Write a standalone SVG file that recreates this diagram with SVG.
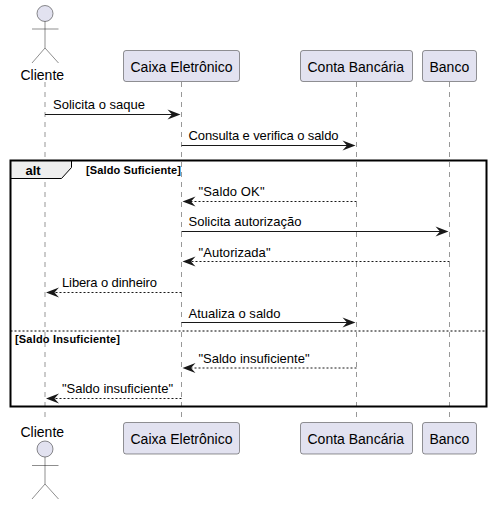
<svg xmlns="http://www.w3.org/2000/svg" width="492" height="505" viewBox="0 0 492 505">
<style>
text{font-family:"Liberation Sans",Arial,sans-serif;fill:#000}
.n{font-size:14px}
.m{font-size:13px}
.b{font-size:11px;font-weight:bold}
.life{stroke:#181818;stroke-opacity:.75;stroke-width:.6;stroke-dasharray:5 5;fill:none}
.box{fill:#E2E2F0;stroke:#181818;stroke-opacity:.65;stroke-width:.7}
.actor{fill:none;stroke:#181818;stroke-opacity:.7;stroke-width:.7}
.head{fill:#E2E2F0;stroke:#181818;stroke-opacity:.7;stroke-width:.7}
.s{stroke:#181818;stroke-width:1;fill:none}
.d{stroke:#181818;stroke-width:1;stroke-dasharray:2 2;fill:none}
.ah{fill:#181818;stroke:none}
</style>
<defs>
<path id="r" class="ah" d="M0 0L-13 -5L-8.500 0L-13 5Z"/>
<path id="l" class="ah" d="M0 0L13 -5L8.500 0L13 5Z"/>
</defs>
<g id="lifelines">
<line class="life" x1="45" y1="82" x2="45" y2="421"/>
<line class="life" x1="181.500" y1="82" x2="181.500" y2="421"/>
<line class="life" x1="356.500" y1="82" x2="356.500" y2="421"/>
<line class="life" x1="449.500" y1="82" x2="449.500" y2="421"/>
</g>
<g id="alt-frame">
<path d="M10.500 160.500H71.500V167.500L61.500 178.500H10.500Z" fill="#EEEEEE" stroke="#000" stroke-width="1"/>
<rect x="10.500" y="160.500" width="476" height="246" fill="none" stroke="#000" stroke-width="2"/>
<text x="25.500" y="175" style="font-size:13px;font-weight:bold">alt</text>
<text x="86" y="174" class="b" textLength="95">[Saldo Suficiente]</text>
<line x1="10.500" y1="331" x2="486.500" y2="331" stroke="#000" stroke-width="1" stroke-dasharray="2 2"/>
<text x="15" y="343" class="b" textLength="105">[Saldo Insuficiente]</text>
</g>
<g id="cliente-top">
<circle class="head" cx="45" cy="13.500" r="8"/>
<path class="actor" d="M45 21.500V48M32 29H58.500M45 48L32 63M45 48L58.500 63"/>
<text class="n" x="20.500" y="80">Cliente</text>
</g>
<g id="caixa-top">
<rect class="box" x="123.500" y="50.500" width="116" height="31" rx="2.500"/>
<text class="n" x="130.500" y="72">Caixa Eletrônico</text>
</g>
<g id="conta-top">
<rect class="box" x="300.500" y="50.500" width="112" height="31" rx="2.500"/>
<text class="n" x="307.500" y="72">Conta Bancária</text>
</g>
<g id="banco-top">
<rect class="box" x="422.500" y="50.500" width="54" height="31" rx="2.500"/>
<text class="n" x="429.500" y="72">Banco</text>
</g>
<g id="cliente-bottom">
<text class="n" x="20.500" y="437">Cliente</text>
<circle class="head" cx="45" cy="449" r="8"/>
<path class="actor" d="M45 457V484M32 465.500H58.500M45 484L32 499M45 484L58.500 499"/>
</g>
<g id="caixa-bottom">
<rect class="box" x="123.500" y="422.500" width="116" height="31.500" rx="2.500"/>
<text class="n" x="130.500" y="444">Caixa Eletrônico</text>
</g>
<g id="conta-bottom">
<rect class="box" x="300.500" y="422.500" width="112" height="31.500" rx="2.500"/>
<text class="n" x="307.500" y="444">Conta Bancária</text>
</g>
<g id="banco-bottom">
<rect class="box" x="422.500" y="422.500" width="54" height="31.500" rx="2.500"/>
<text class="n" x="429.500" y="444">Banco</text>
</g>
<g id="connectors">
<line class="s" x1="45" y1="114.500" x2="178" y2="114.500"/><use href="#r" x="180.500" y="114.500"/>
<line class="s" x1="181.500" y1="145.500" x2="353" y2="145.500"/><use href="#r" x="355.500" y="145.500"/>
<line class="d" x1="356.500" y1="201.500" x2="185" y2="201.500"/><use href="#l" x="182.500" y="201.500"/>
<line class="s" x1="181.500" y1="231.500" x2="446" y2="231.500"/><use href="#r" x="448.500" y="231.500"/>
<line class="d" x1="449.500" y1="261.500" x2="185" y2="261.500"/><use href="#l" x="182.500" y="261.500"/>
<line class="d" x1="181.500" y1="292.500" x2="49" y2="292.500"/><use href="#l" x="46" y="292.500"/>
<line class="s" x1="181.500" y1="322.500" x2="353" y2="322.500"/><use href="#r" x="355.500" y="322.500"/>
<line class="d" x1="356.500" y1="368" x2="185" y2="368"/><use href="#l" x="182.500" y="368"/>
<line class="d" x1="181.500" y1="398.500" x2="49" y2="398.500"/><use href="#l" x="46" y="398.500"/>
</g>
<g id="labels">
<text class="m" x="53" y="109" textLength="92">Solicita o saque</text>
<text class="m" x="188.500" y="140" textLength="150">Consulta e verifica o saldo</text>
<text class="m" x="198.500" y="196" textLength="66">"Saldo OK"</text>
<text class="m" x="188.500" y="226" textLength="113">Solicita autorização</text>
<text class="m" x="198.500" y="257" textLength="72">"Autorizada"</text>
<text class="m" x="62" y="287" textLength="95">Libera o dinheiro</text>
<text class="m" x="188.500" y="318" textLength="92">Atualiza o saldo</text>
<text class="m" x="198.500" y="363" textLength="111">"Saldo insuficiente"</text>
<text class="m" x="62" y="393" textLength="111">"Saldo insuficiente"</text>
</g>
</svg>
